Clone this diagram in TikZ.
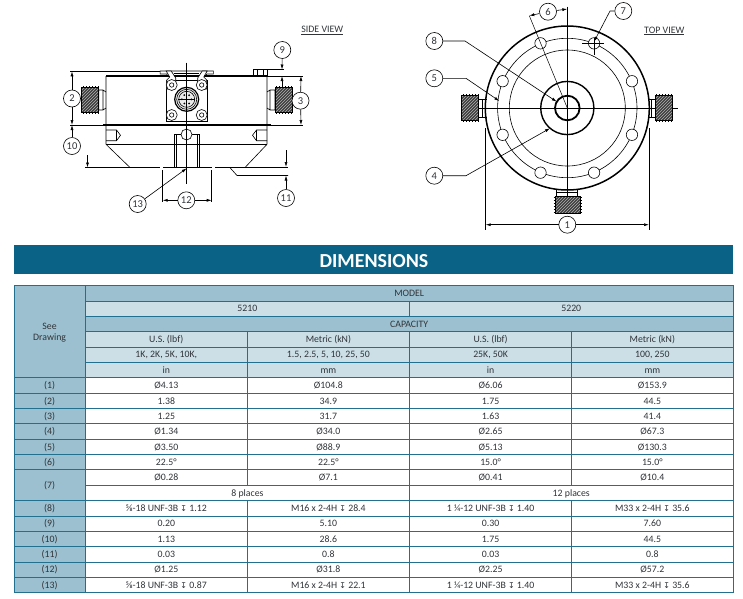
\documentclass[tikz,border=0pt]{standalone}
\usepackage{fontspec}
\usepackage{xcolor}
\usetikzlibrary{arrows.meta,patterns}
\setmainfont{Carlito}
\newfontfamily\depthfont{DejaVu Sans}
\definecolor{bannerblue}{HTML}{0A6387}
\definecolor{headblue}{HTML}{9DC0D0}
\definecolor{paleblue}{HTML}{CCDFE7}
\definecolor{gridblue}{HTML}{22708F}
\definecolor{tabletext}{HTML}{303438}
\tikzset{
	callout/.style={circle, draw, fill=white, line width=0.6pt, minimum size=17pt, inner sep=0pt, font=\fontsize{10.5}{11}\selectfont, text=tabletext},
	dimline/.style={line width=0.6pt, -{Latex[length=5pt,width=3pt]}},
	part/.style={line width=0.6pt},
	heavy/.style={line width=1.2pt},
	viewtitle/.style={font=\fontsize{9.9}{11}\selectfont, text=tabletext, inner sep=0pt},
	tcell/.style={draw=gridblue, line width=0.9pt, inner sep=0pt, text=tabletext, font=\fontsize{9.8}{11}\selectfont, text height=7.6pt, text depth=1.2pt, align=center},
	threadplug/.pic={
		\fill[black!76] (-8.5,-12.5) rectangle (8.5,12.5);
		\fill[pattern=north east lines, pattern color=black!30] (-8.5,-12.5) rectangle (8.5,12.5);
		\draw[line width=0.5pt] (-8.5,-12.5) rectangle (8.5,12.5);
		\foreach \k in {-7,-4,...,8} {
			\draw[line width=0.5pt] (\k,-14) -- (\k,-12.5) (\k,12.5) -- (\k,14);
		}
	}
}
\newcommand{\tblcell}[7]{
	\pgfmathsetmacro{\cellw}{#3-#2}
	\pgfmathsetmacro{\cellh}{15.35*#5}
	\pgfmathsetmacro{\cellx}{(#2+#3)/2}
	\pgfmathsetmacro{\celly}{285.7+15.35*#4+\cellh/2}
	\node[tcell, fill=#6, minimum width=\cellw pt, minimum height=\cellh pt] (cell#1) at (\cellx,\celly) {#7};
}
\newcommand{\dep}{{\depthfont\fontsize{8}{9}\selectfont ↧}}
\begin{document}
\begin{tikzpicture}[x=1pt,y=-1pt]
	\useasboundingbox (0,0) rectangle (743,598);

	\node[viewtitle] (sidetitle) at (322.3,30.5) {\underline{SIDE VIEW}};
	\node[viewtitle] (toptitle) at (664.3,31) {\underline{TOP VIEW}};

	\draw[heavy] (106,76) -- (267,76);
	\draw[heavy] (103,125) -- (271,125);
	\draw[part] (106,76) -- (106,144.3) -- (130,167.5);
	\draw[part] (267,76) -- (267,144.3) -- (245,167.5);
	\draw[part] (106,144.3) -- (267,144.3);
	\draw[heavy] (130,167.7) -- (160,167.7) (163,167.7) -- (212,167.7) (215,167.7) -- (230,167.7);
	\draw[part] (230,167.7) -- (237,175.5) -- (288,175.5);
	\draw[part] (230,167.7) -- (288,167.7);
	\draw[part] (85,167.7) -- (130,167.7);
	\draw[part] (106,130) -- (116.5,130) -- (120.5,135.3) -- (116.5,140.7) -- (106,140.7);
	\draw[part] (116.5,130) -- (116.5,140.7);
	\draw[part] (267,130) -- (256.5,130) -- (252.5,135.3) -- (256.5,140.7) -- (267,140.7);
	\draw[part] (256.5,130) -- (256.5,140.7);
	\draw[part] (174.3,134.3) rectangle (199.3,167.7);
	\draw[part] (176.7,134.3) -- (176.7,167.7) (197,134.3) -- (197,167.7);
	\draw[part, fill=white] (186.5,134.5) circle (5.5);
	\draw[part] (253,69.3) rectangle (267,76);
	\draw[part] (257,69.3) -- (257,76) (263,69.3) -- (263,76);

	\draw[part] (166.7,80.7) rectangle (207,121.7);
	\foreach \s in {1,-1} {
		\begin{scope}[shift={(186.7,0)},xscale=\s]
			\draw[part] (0,71) -- (26.6,71) -- (26.6,74) -- (20,74) -- (19,76);
			\draw[part, fill=white] (20.5,71) -- (15.5,71) -- (11,78) -- (11,85) -- (15,89) -- (20,89) -- (20,80) -- (17,77) -- cycle;
			\draw[part, fill=white] (15,85) circle (5.5);
			\draw[part] (15,85) circle (2.2);
			\draw[part, fill=white] (15,115) circle (5.5);
			\draw[part] (15,115) circle (2.2);
		\end{scope}
	}
	\draw[line width=0.4pt] (174,75) -- (199,75) (174,73.5) -- (199,73.5);
	\draw[heavy, fill=black!8] (186.7,99.3) circle (12);
	\draw[part] (186.7,99.3) circle (10);
	\draw[part] (186.7,99.3) circle (8);
	\foreach \a in {0,60,...,300} {
		\fill (186.7,99.3) ++(\a:4.8) circle (1);
	}
	\draw[line width=0.5pt] (186.7,62.7) -- (186.7,184.3);
	\draw[line width=0.5pt] (178,99.3) -- (195,99.3);

	\pic at (90.2,100) {threadplug};
	\draw[part] (98.7,90) -- (103,90) -- (106,92) (98.7,110) -- (103,110) -- (106,108) (98.7,90) -- (98.7,110) (103,90) -- (103,110);
	\pic at (283.3,100) {threadplug};
	\draw[part] (275,90) -- (270,90) -- (267,92) (275,110) -- (270,110) -- (267,108) (275,90) -- (275,110) (270,90) -- (270,110);

	\coordinate (topleft) at (72,71.3);
	\coordinate (midleft) at (72,125);
	\coordinate (botleft) at (87.5,167.5);
	\coordinate (botstart) at (87.5,155);
	\coordinate (boltup) at (282,69.5);
	\coordinate (bodytop) at (282,76);
	\coordinate (bodystart) at (282,88);
	\coordinate (bodytopr) at (301,76);
	\coordinate (midright) at (301,125);
	\coordinate (lowup) at (286,167);
	\coordinate (lowstart) at (286,150);
	\coordinate (lowdn) at (286,175.5);
	\coordinate (borel) at (162.7,200.3);
	\coordinate (borer) at (211.7,200.3);
	\coordinate (boretip) at (186.7,168.3);
	\draw[part] (70,71.3) -- (160,71.3);
	\draw[part] (70,125) -- (103,125);
	\draw[part] (267,69.5) -- (284,69.5);
	\draw[part] (268,76) -- (303,76);
	\draw[part] (271,125) -- (303,125);
	\draw[part] (162.7,170) -- (162.7,202) (211.7,170) -- (211.7,202);

	\node[callout] (dimtwo) at (72,98.5) {2};
	\node[callout] (dimthree) at (300.5,100.7) {3};
	\node[callout] (dimnine) at (282.3,50) {9};
	\node[callout] (dimten) at (72,146) {10};
	\node[callout] (dimeleven) at (286,198) {11};
	\node[callout] (dimtwelve) at (186.3,200.3) {12};
	\node[callout] (dimthirteen) at (137.7,204) {13};
	\draw[dimline] (dimtwo) -- (topleft);
	\draw[dimline] (dimtwo) -- (midleft);
	\draw[dimline] (dimten) -- (midleft);
	\draw[dimline] (botstart) -- (botleft);
	\draw[dimline] (dimthree) -- (bodytopr);
	\draw[dimline] (dimthree) -- (midright);
	\draw[dimline] (dimnine) -- (boltup);
	\draw[dimline] (bodystart) -- (bodytop);
	\draw[dimline] (lowstart) -- (lowup);
	\draw[dimline] (dimeleven) -- (lowdn);
	\draw[dimline] (dimtwelve) -- (borel);
	\draw[dimline] (dimtwelve) -- (borer);
	\draw[dimline] (dimthirteen) -- (boretip);

	\coordinate (hub) at (567.3,108);
	\draw[line width=1.5pt] (hub) circle (82);
	\draw[part] (hub) circle (69.7);
	\draw[part] (hub) circle (58);
	\draw[line width=1.4pt] (hub) circle (26.6);
	\draw[line width=1.8pt] (hub) circle (12.3);
	\foreach \a in {22.5,67.5,...,337.5} {
		\draw[part, fill=white] (hub) ++(\a:70) circle (5.7);
	}
	\draw[line width=0.5pt] (461.7,108) -- (677.7,108);
	\draw[line width=0.5pt] (567.3,6.7) -- (567.3,197);
	\draw[line width=0.5pt] (582.3,43.3) -- (604,43.3) (594,38) -- (594,55);

	\pic at (470,108) {threadplug};
	\draw[part] (478.5,99) -- (486.5,99) (478.5,117) -- (486.5,117) (478.5,99) -- (478.5,117) (482,99) -- (482,117);
	\pic at (663.5,108) {threadplug};
	\draw[part] (655,99) -- (648,99) (655,117) -- (648,117) (655,99) -- (655,117) (651.5,99) -- (651.5,117);
	\pic[rotate=90] at (567.5,205) {threadplug};
	\draw[part] (556.7,188.5) -- (556.7,196.5) (577.7,188.5) -- (577.7,196.5) (556.7,196.5) -- (577.7,196.5) (556.7,192) -- (577.7,192);

	\coordinate (spanl) at (485.7,224.7);
	\coordinate (spanr) at (649,224.7);
	\coordinate (ringtip) at (550,128.3);
	\coordinate (pcdtip) at (499.3,101);
	\coordinate (threadtip) at (556.7,101.7);
	\coordinate (angr) at (567.3,9);
	\coordinate (angl) at (529.3,15.7);
	\coordinate (holetip) at (594,41.7);
	\draw[part] (485.7,128) -- (485.7,230) (649,128) -- (649,230);
	\draw[line width=0.5pt] (angl) -- (hub);

	\node[callout] (dimone) at (567.3,224.7) {1};
	\node[callout] (dimfour) at (434.3,175.7) {4};
	\node[callout] (dimfive) at (434.3,78.3) {5};
	\node[callout] (dimsix) at (548,11.7) {6};
	\node[callout] (dimseven) at (623.3,11) {7};
	\node[callout] (dimeight) at (434.3,41) {8};
	\draw[dimline] (dimone) -- (spanl);
	\draw[dimline] (dimone) -- (spanr);
	\draw[dimline] (dimfour) -- (466,175.7) -- (ringtip);
	\draw[dimline] (dimfive) -- (466,78.3) -- (pcdtip);
	\draw[dimline] (dimeight) -- (465,41) -- (threadtip);
	\draw[dimline] (dimsix) -- (angr);
	\draw[dimline] (dimsix) -- (angl);
	\draw[dimline] (dimseven) -- (610,11) -- (holetip);

	\fill[bannerblue] (14,245) rectangle (733,274);
	\node[text=white, font=\fontsize{19.9}{22}\selectfont\bfseries, inner sep=0pt] (banner) at (374,261.3) {DIMENSIONS};

	\tblcell{see}{14}{85.3}{0}{6}{headblue}{}
	\node[text=tabletext, font=\fontsize{9.8}{11}\selectfont, align=center, inner sep=0pt] (seelabel) at (49.6,332.8) {See\\Drawing};
	\tblcell{model}{85.3}{733}{0}{1}{headblue}{MODEL}
	\tblcell{fivea}{85.3}{409.5}{1}{1}{paleblue}{5210}
	\tblcell{fiveb}{409.5}{733}{1}{1}{paleblue}{5220}
	\tblcell{capacity}{85.3}{733}{2}{1}{headblue}{CAPACITY}
	\foreach \r/\ca/\cb/\cc/\cd in {3/U.S. (lbf)/Metric (kN)/U.S. (lbf)/Metric (kN),
		4/{1K, 2K, 5K, 10K,}/{1.5, 2.5, 5, 10, 25, 50}/{25K, 50K}/{100, 250},
		5/in/mm/in/mm} {
		\tblcell{\r a}{85.3}{247.3}{\r}{1}{paleblue}{\ca}
		\tblcell{\r b}{247.3}{409.5}{\r}{1}{paleblue}{\cb}
		\tblcell{\r c}{409.5}{571.7}{\r}{1}{paleblue}{\cc}
		\tblcell{\r d}{571.7}{733}{\r}{1}{paleblue}{\cd}
	}
	\foreach \r/\n/\ca/\cb/\cc/\cd in {6/1/Ø4.13/Ø104.8/Ø6.06/Ø153.9,
		7/2/1.38/34.9/1.75/44.5,
		8/3/1.25/31.7/1.63/41.4,
		9/4/Ø1.34/Ø34.0/Ø2.65/Ø67.3,
		10/5/Ø3.50/Ø88.9/Ø5.13/Ø130.3,
		11/6/22.5°/22.5°/15.0°/15.0°,
		14/8/{⅝-18 UNF-3B \dep{} 1.12}/{M16 x 2-4H \dep{} 28.4}/{1 ¼-12 UNF-3B \dep{} 1.40}/{M33 x 2-4H \dep{} 35.6},
		15/9/0.20/5.10/0.30/7.60,
		16/10/1.13/28.6/1.75/44.5,
		17/11/0.03/0.8/0.03/0.8,
		18/12/Ø1.25/Ø31.8/Ø2.25/Ø57.2,
		19/13/{⅝-18 UNF-3B \dep{} 0.87}/{M16 x 2-4H \dep{} 22.1}/{1 ¼-12 UNF-3B \dep{} 1.40}/{M33 x 2-4H \dep{} 35.6}} {
		\tblcell{\r n}{14}{85.3}{\r}{1}{headblue}{(\n)}
		\tblcell{\r a}{85.3}{247.3}{\r}{1}{white}{\ca}
		\tblcell{\r b}{247.3}{409.5}{\r}{1}{white}{\cb}
		\tblcell{\r c}{409.5}{571.7}{\r}{1}{white}{\cc}
		\tblcell{\r d}{571.7}{733}{\r}{1}{white}{\cd}
	}
	\tblcell{seven}{14}{85.3}{12}{2}{headblue}{(7)}
	\tblcell{12a}{85.3}{247.3}{12}{1}{white}{Ø0.28}
	\tblcell{12b}{247.3}{409.5}{12}{1}{white}{Ø7.1}
	\tblcell{12c}{409.5}{571.7}{12}{1}{white}{Ø0.41}
	\tblcell{12d}{571.7}{733}{12}{1}{white}{Ø10.4}
	\tblcell{placesa}{85.3}{409.5}{13}{1}{white}{8 places}
	\tblcell{placesb}{409.5}{733}{13}{1}{white}{12 places}
\end{tikzpicture}
\end{document}
